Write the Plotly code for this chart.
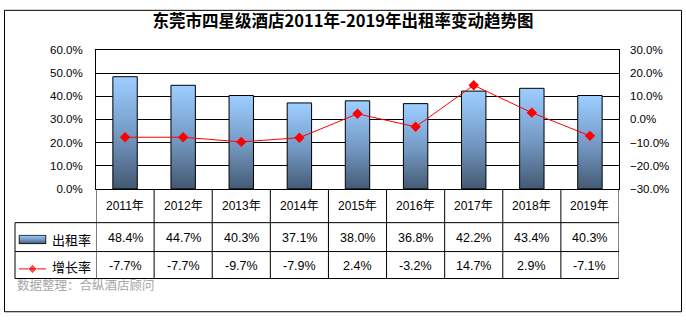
import plotly.graph_objects as go

years = ["2011年", "2012年", "2013年", "2014年", "2015年", "2016年", "2017年", "2018年", "2019年"]
occupancy = [48.4, 44.7, 40.3, 37.1, 38.0, 36.8, 42.2, 43.4, 40.3]
growth = [-7.7, -7.7, -9.7, -7.9, 2.4, -3.2, 14.7, 2.9, -7.1]
title_text = "东莞市四星级酒店2011年-2019年出租率变动趋势图"
series_names = ["出租率", "增长率"]
source_text = "数据整理：合纵酒店顾问"

W, H = 686, 324
def px(x):
    return x / W
def py(y):
    return 1 - y / H

FONT = "Liberation Sans, Arial, Noto Sans CJK SC"
CJK = "Noto Sans CJK SC, Liberation Sans"
grad = [[0, "#3E526A"], [0.5, "#7398C2"], [1, "#9CCDFF"]]

plot_l, plot_r, plot_t, plot_b = 96, 619, 45.5, 190
bw = 0.42

fig = go.Figure()

# bars as gradient-filled polygons
for i, v in enumerate(occupancy):
    val = v / 100
    fig.add_trace(go.Scatter(
        x=[i - bw / 2, i + bw / 2, i + bw / 2, i - bw / 2, i - bw / 2],
        y=[0, 0, val, val, 0],
        mode="lines", fill="toself",
        line=dict(color="black", width=1),
        fillgradient=dict(type="vertical", colorscale=grad, start=0, stop=val),
        hoverinfo="skip", showlegend=False, xaxis="x", yaxis="y"))

# growth line
fig.add_trace(go.Scatter(
    x=list(range(len(growth))), y=[g / 100 for g in growth],
    mode="lines+markers", line=dict(color="#FF0000", width=1),
    marker=dict(symbol="diamond", size=8, color="#FF0000"),
    showlegend=False, xaxis="x", yaxis="y2"))

# legend icon: gradient rectangle
fig.add_trace(go.Scatter(
    x=[0, 1, 1, 0, 0], y=[0, 0, 1, 1, 0], mode="lines", fill="toself",
    line=dict(color="black", width=1),
    fillgradient=dict(type="vertical", colorscale=grad, start=0, stop=1),
    hoverinfo="skip", showlegend=False, xaxis="x3", yaxis="y3"))
# legend icon: line with diamond
fig.add_trace(go.Scatter(
    x=[0, 0.5, 1], y=[0, 0, 0], mode="lines+markers",
    line=dict(color="#FF0000", width=1),
    marker=dict(symbol="diamond", size=[0, 7, 0], color="#FF0000"),
    hoverinfo="skip", showlegend=False, xaxis="x4", yaxis="y4"))

n = len(years)
fig.update_layout(
    width=W, height=H, margin=dict(l=0, r=0, t=0, b=0),
    paper_bgcolor="white", plot_bgcolor="white",
    font=dict(family=FONT, size=11, color="black"),
    title=dict(text=title_text, x=0.5, xanchor="center", y=py(21.5), yanchor="middle",
               font=dict(family=CJK, size=16.5, color="black", weight="bold")),
    xaxis=dict(domain=[px(plot_l), px(plot_r)], range=[-0.5, n - 0.5],
               showticklabels=False, showgrid=False, zeroline=False,
               showline=True, mirror=True, linecolor="black", linewidth=1, ticks=""),
    yaxis=dict(domain=[py(plot_b), py(plot_t)], range=[0, 0.6], dtick=0.1,
               tickformat=".1%", showgrid=True, gridcolor="black", gridwidth=1,
               zeroline=False, showline=True, mirror=True, linecolor="black",
               ticks="", ticklabelstandoff=10, tickfont=dict(size=11.5)),
    yaxis2=dict(overlaying="y", side="right", range=[-0.3, 0.3], dtick=0.1,
                tickformat=".1%", showgrid=False, zeroline=False, showline=False,
                ticks="", ticklabelstandoff=10, tickfont=dict(size=11.5)),
    xaxis3=dict(domain=[px(18.5), px(46.5)], range=[-0.02, 1.02], visible=False),
    yaxis3=dict(domain=[py(247.5), py(237.5)], range=[-0.05, 1.05], visible=False, anchor="x3"),
    xaxis4=dict(domain=[px(19), px(46)], range=[0, 1], visible=False),
    yaxis4=dict(domain=[py(278), py(268)], range=[-1, 1], visible=False, anchor="x4"),
)
fig.data[-2].update(xaxis="x3", yaxis="y3")
fig.data[-1].update(xaxis="x4", yaxis="y4")

shapes = []
# outer frame
shapes.append(dict(type="rect", xref="paper", yref="paper", x0=px(4.5), x1=px(681.5),
                   y0=py(317.5), y1=py(4.5), line=dict(color="black", width=1)))
# table vertical lines
for k in range(n + 1):
    shapes.append(dict(type="line", xref="x", yref="paper", x0=k - 0.5, x1=k - 0.5,
                       y0=py(plot_b), y1=py(283), line=dict(color="black", width=1)))
shapes.append(dict(type="line", xref="paper", yref="paper", x0=px(15), x1=px(15),
                   y0=py(225), y1=py(283), line=dict(color="black", width=1)))
for yy in [225, 255, 283]:
    shapes.append(dict(type="line", xref="paper", yref="paper", x0=px(15), x1=px(plot_r),
                       y0=py(yy), y1=py(yy), line=dict(color="black", width=1)))
fig.update_layout(shapes=shapes)

ann = []
for i, yr in enumerate(years):
    ann.append(dict(x=i, y=py(208), xref="x", yref="paper", text=yr, showarrow=False,
                    font=dict(size=12, family=FONT), xanchor="center", yanchor="middle"))
    ann.append(dict(x=i, y=py(241), xref="x", yref="paper", text=f"{occupancy[i]:.1f}%",
                    showarrow=False, font=dict(size=12.5, family=FONT),
                    xanchor="center", yanchor="middle"))
    ann.append(dict(x=i, y=py(270), xref="x", yref="paper", text=f"{growth[i]:.1f}%",
                    showarrow=False, font=dict(size=12.5, family=FONT),
                    xanchor="center", yanchor="middle"))
ann.append(dict(x=px(50), y=py(242), xref="paper", yref="paper", text=series_names[0],
                showarrow=False, font=dict(size=13, family=CJK), xanchor="left", yanchor="middle"))
ann.append(dict(x=px(50), y=py(270), xref="paper", yref="paper", text=series_names[1],
                showarrow=False, font=dict(size=13, family=CJK), xanchor="left", yanchor="middle"))
ann.append(dict(x=px(15), y=py(289.5), xref="paper", yref="paper", text=source_text,
                showarrow=False, font=dict(size=12.5, family=CJK, color="#A6A6A6"),
                xanchor="left", yanchor="middle"))
fig.update_layout(annotations=ann)

fig.write_html("out.html")
